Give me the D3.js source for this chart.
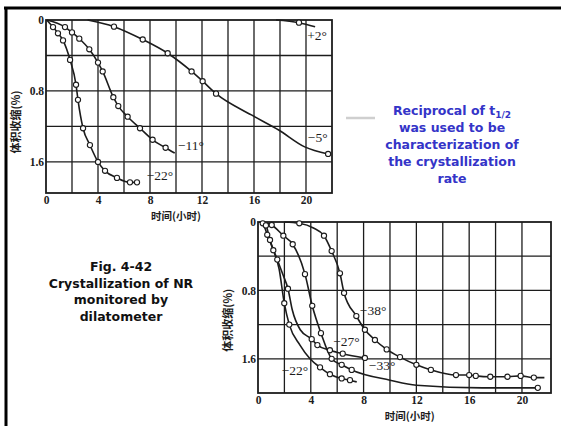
<!DOCTYPE html>
<html><head><meta charset="utf-8">
<script src="https://cdn.jsdelivr.net/npm/d3@7"></script>
<style>
html,body{margin:0;padding:0;background:#fff;}
svg{display:block;}
</style></head>
<body>
<svg id="c" width="561" height="426"></svg>
<script>
// ---------- DATA (hours, volume shrinkage %) ----------
const xTicks = [0, 4, 8, 12, 16, 20];
const yTicks = [0, 0.8, 1.6];
const yTickLabels = ["0", "0.8", "1.6"];
const xGrid = [2, 4, 6, 8, 10, 12, 14, 16, 18, 20];
const yGrid = [0.4, 0.8, 1.2, 1.6];
const xAxisTitle = "时间(小时)";
const yAxisTitle = "体积收缩(%)";

// top chart: [hour, shrinkage, marker]
const topPlus2 = [[17.7,0,0],[19.46,0.03,1],[20.7,0.075,0]];
const topMinus5 = [[3.2,0,0],[5.23,0.075,1],[7.44,0.22,1],[9.36,0.375,1],[11.2,0.58,1],[12.05,0.69,1],[13.08,0.83,1],[15.8,1.07,0],[17.9,1.24,0],[19.9,1.43,0],[21.7,1.51,1]];
const topMinus11 = [[0.05,0,0],[1.46,0.08,1],[2.0,0.14,1],[2.56,0.21,1],[3.33,0.33,1],[4.0,0.48,1],[4.36,0.58,1],[5.18,0.87,1],[5.56,0.97,1],[6.28,1.09,1],[7.23,1.22,1],[8.2,1.35,1],[9.2,1.44,1],[9.9,1.5,0]];
const topMinus22 = [[0.05,0,0],[0.54,0.08,1],[0.92,0.15,1],[1.31,0.23,1],[1.85,0.45,1],[2.31,0.73,1],[2.46,0.9,1],[2.85,1.22,1],[3.38,1.41,1],[4.0,1.6,1],[4.54,1.7,1],[5.46,1.78,1],[6.46,1.83,1],[7.0,1.83,1]];
const topLabels = [["+2°",20.85,0.17],["−5°",20.9,1.32],["−11°",11.15,1.41],["−22°",8.77,1.75]];

// bottom chart
const botMinus22 = [[0.1,0,0],[0.36,0.015,1],[0.7,0.15,1],[1.16,0.33,1],[1.6,0.55,0],[1.99,0.95,1],[2.37,1.2,1],[3.18,1.44,0],[3.94,1.6,0],[4.7,1.7,1],[5.45,1.78,1],[6.34,1.83,1],[6.97,1.85,1],[7.48,1.87,0]];
const botMinus33 = [[0.2,0,0],[0.6,0.04,1],[0.91,0.21,1],[1.46,0.44,1],[1.9,0.62,0],[2.27,0.78,1],[2.6,1.03,0],[3.2,1.26,0],[4.07,1.37,1],[4.5,1.44,1],[5.45,1.5,1],[6.42,1.54,1],[8.1,1.59,1]];
const botMinus27 = [[0.4,0,0],[1.04,0.035,1],[1.92,0.16,1],[2.63,0.26,1],[3.56,0.61,1],[4.11,0.98,1],[4.77,1.3,1],[5.58,1.6,1],[6.34,1.67,1],[7.1,1.73,1],[10.0,1.85,0],[12.0,1.91,0],[17.0,1.94,0],[21.2,1.94,1]];
const botMinus38 = [[2.0,0,0],[3.13,0.015,1],[4.2,0.07,0],[5.0,0.16,1],[5.58,0.34,1],[6.21,0.6,1],[6.52,0.83,1],[7.45,1.1,1],[8.1,1.26,1],[8.86,1.38,1],[9.75,1.49,1],[10.76,1.58,1],[12.0,1.67,1],[13.1,1.73,1],[15.0,1.79,1],[16.0,1.79,1],[16.5,1.8,1],[17.6,1.81,1],[18.9,1.81,1],[19.9,1.8,1],[20.9,1.82,1],[21.7,1.82,0]];
const botLabels = [["−38°",8.72,1.03],["−27°",6.7,1.4],["−33°",9.4,1.67],["−22°",2.8,1.73]];

const noteBlue = ["Reciprocal of t", "was used to be", "characterization of", "the crystallization", "rate"];
const noteBlack = ["Fig. 4-42", "Crystallization of NR", "monitored by", "dilatometer"];

// ---------- DRAW ----------
const svg = d3.select("#c");
const ink = "#1c1c1c";

// outer frame
svg.append("line").attr("x1",4).attr("x2",561).attr("y1",8).attr("y2",8).attr("stroke","#000").attr("stroke-width",3);
svg.append("line").attr("x1",6).attr("x2",6).attr("y1",7).attr("y2",426).attr("stroke","#000").attr("stroke-width",3);

function chart(cfg){
  const x = d3.scaleLinear().domain(cfg.xd).range(cfg.xr);
  const y = d3.scaleLinear().domain(cfg.yd).range(cfg.yr);
  const g = svg.append("g");
  // grid
  g.selectAll(".vg").data(xGrid).join("line")
    .attr("x1",d=>x(d)).attr("x2",d=>x(d)).attr("y1",cfg.yr[0]).attr("y2",cfg.yr[1])
    .attr("stroke",ink).attr("stroke-width",1.3);
  g.selectAll(".hg").data(yGrid).join("line")
    .attr("x1",cfg.xr[0]).attr("x2",cfg.xr[1]).attr("y1",d=>y(d)).attr("y2",d=>y(d))
    .attr("stroke",ink).attr("stroke-width",1.3);
  // frame
  g.append("rect").attr("x",cfg.xr[0]).attr("y",cfg.yr[0])
    .attr("width",cfg.xr[1]-cfg.xr[0]).attr("height",cfg.yr[1]-cfg.yr[0])
    .attr("fill","none").attr("stroke",ink).attr("stroke-width",1.8);
  // axes labels via d3 axes (no lines)
  const ax = g.append("g").attr("transform",`translate(0,${cfg.yr[1]})`)
    .call(d3.axisBottom(x).tickValues(xTicks).tickSize(0).tickPadding(3).tickFormat(d3.format("d")));
  ax.select(".domain").remove();
  ax.selectAll("text").attr("font-family","Liberation Serif").attr("font-weight","bold").attr("font-size",11.5).attr("fill",ink);
  const ay = g.append("g").attr("transform",`translate(${cfg.xr[0]},0)`)
    .call(d3.axisLeft(y).tickValues(yTicks).tickSize(0).tickPadding(2).tickFormat((d,i)=>yTickLabels[i]));
  ay.select(".domain").remove();
  ay.selectAll("text").attr("font-family","Liberation Serif").attr("font-weight","bold").attr("font-size",11.5).attr("fill",ink);
  // titles
  g.append("text").attr("x",x(cfg.xTitleAt)).attr("y",cfg.yr[1]+27)
    .attr("text-anchor","middle").attr("font-family","Noto Sans CJK SC").attr("font-weight","bold")
    .attr("font-size",10.5).attr("fill",ink).text(xAxisTitle);
  g.append("text").attr("transform",`translate(${cfg.xr[0]-26},${y(1.15)}) rotate(-90)`)
    .attr("text-anchor","middle").attr("font-family","Noto Sans CJK SC").attr("font-weight","bold")
    .attr("font-size",11).attr("fill",ink).text(yAxisTitle);
  // curves
  const line = d3.line().x(d=>x(d[0])).y(d=>y(d[1])).curve(d3.curveMonotoneX);
  cfg.series.forEach(s=>{
    g.append("path").attr("d",line(s)).attr("fill","none").attr("stroke",ink).attr("stroke-width",1.6);
  });
  cfg.series.forEach(s=>{
    g.selectAll(null).data(s.filter(d=>d[2])).join("circle")
      .attr("cx",d=>x(d[0])).attr("cy",d=>y(d[1])).attr("r",2.6)
      .attr("fill","#fff").attr("stroke",ink).attr("stroke-width",1.1);
  });
  g.selectAll(null).data(cfg.labels).join("text")
    .attr("x",d=>x(d[1])).attr("y",d=>y(d[2])).attr("dy","0.35em")
    .attr("text-anchor","middle").attr("font-family","Liberation Serif")
    .attr("font-size",13.5).attr("fill",ink).text(d=>d[0]);
}

chart({xd:[0,22], xr:[46,332], yd:[0,1.95], yr:[20,193], xTitleAt:10,
  series:[topPlus2, topMinus5, topMinus11, topMinus22], labels: topLabels});
chart({xd:[0,22.2], xr:[258,551], yd:[0,2.0], yr:[222,393], xTitleAt:11.5,
  series:[botMinus22, botMinus33, botMinus27, botMinus38], labels: botLabels});

// gray dash
svg.append("line").attr("x1",346).attr("x2",375).attr("y1",118).attr("y2",118).attr("stroke","#cfcfcf").attr("stroke-width",2.5);

// blue note
const blue = "#3434c8";
const bt = svg.append("text").attr("text-anchor","middle").attr("font-family","DejaVu Sans")
  .attr("font-weight","bold").attr("font-size",12.5).attr("fill",blue);
noteBlue.forEach((t,i)=>{
  const ts = bt.append("tspan").attr("x",452).attr("y",115+i*17).text(t);
  if(i===0){
    ts.append("tspan").attr("font-size",9).attr("dy",3).text("1/2");
  }
});
// black note
const kt = svg.append("text").attr("text-anchor","middle").attr("font-family","DejaVu Sans")
  .attr("font-weight","bold").attr("font-size",12.5).attr("fill","#111");
noteBlack.forEach((t,i)=>{
  kt.append("tspan").attr("x",121).attr("y",271+i*16.7).text(t);
});
</script>
</body></html>
